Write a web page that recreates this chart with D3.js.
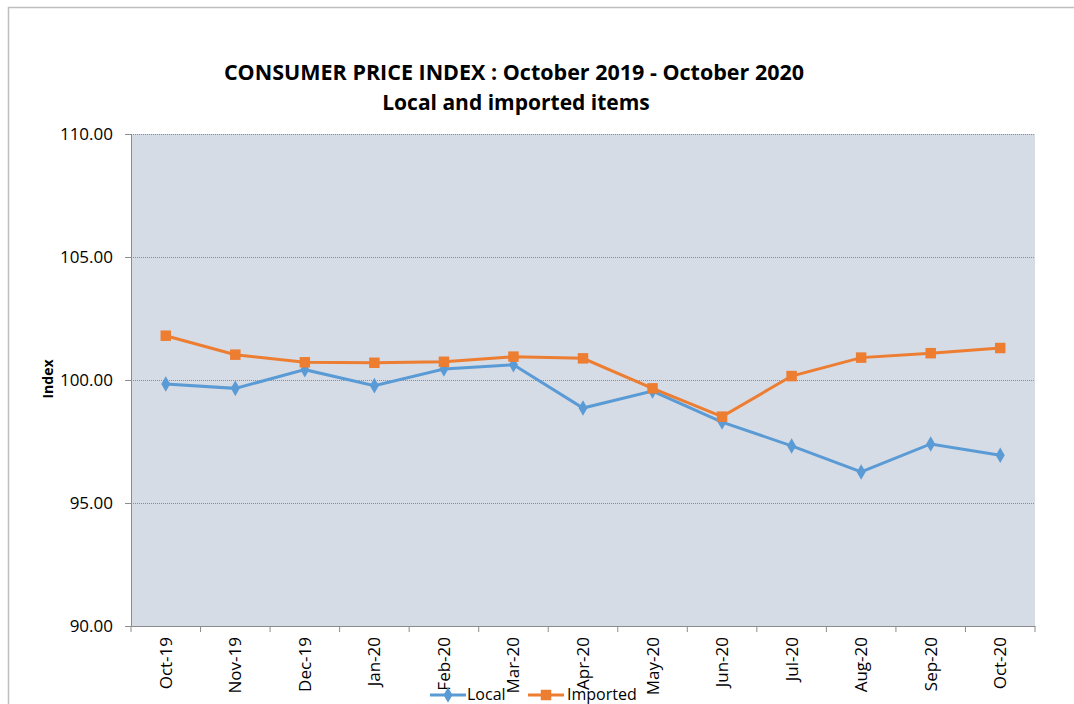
<!DOCTYPE html>
<html>
<head>
<meta charset="utf-8">
<script src="https://cdn.jsdelivr.net/npm/d3@7"></script>
<style>
  body { margin: 0; background: #fff; }
  svg text { font-family: "Open Sans", "Liberation Sans", sans-serif; }
</style>
</head>
<body>
<div id="chart"></div>
<script>
// Daten
const months = ["Oct-19", "Nov-19", "Dec-19", "Jan-20", "Feb-20", "Mar-20", "Apr-20",
                "May-20", "Jun-20", "Jul-20", "Aug-20", "Sep-20", "Oct-20"];
const localValues = [99.84, 99.66, 100.42, 99.77, 100.45, 100.62, 98.86,
                     99.55, 98.29, 97.32, 96.26, 97.40, 96.94];
const importedValues = [101.80, 101.03, 100.72, 100.70, 100.74, 100.95, 100.88,
                        99.66, 98.51, 100.16, 100.91, 101.09, 101.30];
const yTicks = [90, 95, 100, 105, 110];

const width = 1074;
const height = 704;
const plot = { left: 131, right: 1035, top: 134, bottom: 626 };

const svg = d3.select("#chart")
    .append("svg")
    .attr("width", width)
    .attr("height", height);

// Rahmen
svg.append("path")
    .attr("d", `M8.5,${height} V7.5 H${width}`)
    .attr("fill", "none")
    .attr("stroke", "#bfbfbf")
    .attr("stroke-width", 1.5);

const x = d3.scaleBand()
    .domain(months)
    .range([plot.left, plot.right]);

const y = d3.scaleLinear()
    .domain([90, 110])
    .range([plot.bottom, plot.top]);

// Plotfläche
svg.append("rect")
    .attr("x", plot.left)
    .attr("y", plot.top)
    .attr("width", plot.right - plot.left)
    .attr("height", plot.bottom - plot.top)
    .attr("fill", "#d5dce6");

// Gitterlinien
svg.append("g")
    .selectAll("line")
    .data(yTicks.filter(d => d > 90))
    .enter()
    .append("line")
    .attr("x1", plot.left)
    .attr("x2", plot.right)
    .attr("y1", d => y(d) + 0.5)
    .attr("y2", d => y(d) + 0.5)
    .attr("stroke", "#8c8c8c")
    .attr("stroke-width", 1)
    .attr("stroke-dasharray", "1,1");

// Y-Achse
const yAxis = svg.append("g")
    .attr("transform", `translate(${plot.left},0)`)
    .call(d3.axisLeft(y).tickValues(yTicks).tickFormat(d3.format(".2f")).tickSize(6).tickPadding(12));
yAxis.select(".domain").attr("stroke", "#8c8c8c");
yAxis.selectAll(".tick line").attr("stroke", "#8c8c8c");
yAxis.selectAll("text")
    .style("font-size", "17px")
    .attr("fill", "#000");

// X-Achse
const xAxis = svg.append("g")
    .attr("transform", `translate(0,${plot.bottom})`)
    .call(d3.axisBottom(x).tickSize(0).tickFormat(""));
xAxis.select(".domain").attr("stroke", "#8c8c8c");

// Tick-Striche an den Bandgrenzen
svg.append("g")
    .selectAll("line")
    .data(months.concat(["end"]))
    .enter()
    .append("line")
    .attr("x1", (d, i) => plot.left + i * x.step())
    .attr("x2", (d, i) => plot.left + i * x.step())
    .attr("y1", plot.bottom)
    .attr("y2", plot.bottom + 6)
    .attr("stroke", "#8c8c8c");

svg.append("g")
    .selectAll("text")
    .data(months)
    .enter()
    .append("text")
    .attr("transform", d => `translate(${x(d) + x.bandwidth() / 2 + 6},${plot.bottom + 11}) rotate(-90)`)
    .attr("text-anchor", "end")
    .style("font-size", "17px")
    .text(d => d);

// Achsentitel
svg.append("text")
    .attr("transform", `translate(53,379) rotate(-90)`)
    .attr("text-anchor", "middle")
    .style("font-size", "14px")
    .style("font-weight", "bold")
    .text("Index");

// Titel
svg.append("text")
    .attr("x", 514)
    .attr("y", 80)
    .attr("text-anchor", "middle")
    .style("font-size", "21.5px")
    .style("font-weight", "bold")
    .text("CONSUMER PRICE INDEX : October 2019 - October 2020");

svg.append("text")
    .attr("x", 516)
    .attr("y", 110)
    .attr("text-anchor", "middle")
    .style("font-size", "21px")
    .style("font-weight", "bold")
    .text("Local and imported items");

// Linien
const series = [
    { name: "Local", values: localValues, color: "#5b9bd5", symbol: d3.symbolDiamond, size: 70 },
    { name: "Imported", values: importedValues, color: "#ed7d31", symbol: d3.symbolSquare, size: 110 }
];

const line = d3.line()
    .x((d, i) => x(months[i]) + x.bandwidth() / 2)
    .y(d => y(d));

series.forEach(s => {
    svg.append("path")
        .datum(s.values)
        .attr("d", line)
        .attr("fill", "none")
        .attr("stroke", s.color)
        .attr("stroke-width", 3);

    svg.append("g")
        .selectAll("path")
        .data(s.values)
        .enter()
        .append("path")
        .attr("d", d3.symbol().type(s.symbol).size(s.size))
        .attr("transform", (d, i) => `translate(${x(months[i]) + x.bandwidth() / 2},${y(d)})`)
        .attr("fill", s.color);
});

// Legende
const legendItems = [
    { name: "Local", x: 430, textX: 467 },
    { name: "Imported", x: 528, textX: 567 }
];
legendItems.forEach((item, i) => {
    const s = series[i];
    const g = svg.append("g").attr("transform", `translate(${item.x},695)`);
    g.append("line")
        .attr("x1", 0).attr("x2", 36)
        .attr("stroke", s.color)
        .attr("stroke-width", 3);
    g.append("path")
        .attr("d", d3.symbol().type(s.symbol).size(s.size))
        .attr("transform", "translate(18,0)")
        .attr("fill", s.color);
    svg.append("text")
        .attr("x", item.textX)
        .attr("y", 700)
        .style("font-size", "16px")
        .text(item.name);
});
</script>
</body>
</html>
